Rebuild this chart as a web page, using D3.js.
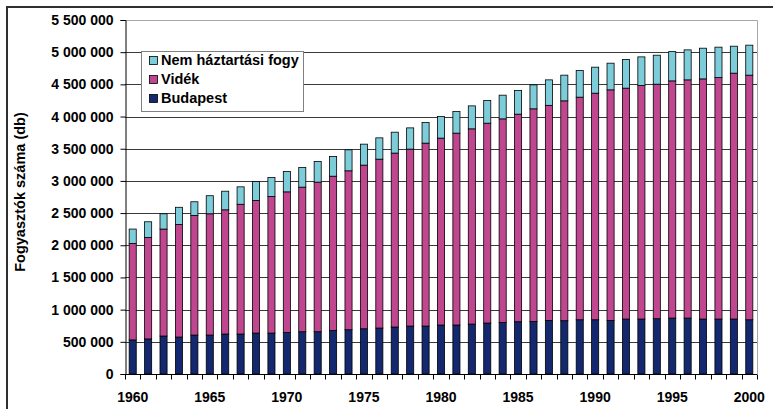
<!DOCTYPE html>
<html>
<head>
<meta charset="utf-8">
<script src="https://cdn.jsdelivr.net/npm/d3@7"></script>
<style>
  html, body { margin: 0; padding: 0; background: #fff; }
  svg { display: block; font-family: Arial, "Liberation Sans", sans-serif; }
</style>
</head>
<body>
<svg id="chart" width="773" height="409"></svg>
<script>
// Fogyasztók száma évenként (db)
const years = d3.range(1960, 2001);
const budapest = [
  530000, 545000, 590000, 574000, 605000, 605000, 621000, 621000, 636000, 636000,
  646000, 657000, 657000, 675000, 688000, 703000, 714000, 730000, 745000, 745000,
  761000, 761000, 776000, 792000, 801000, 812000, 817000, 832000, 828000, 843000,
  843000, 833000, 854000, 854000, 859000, 869000, 869000, 854000, 854000, 854000,
  843000
];
const videk = [
  1498000, 1576000, 1662000, 1749000, 1858000, 1884000, 1930000, 2016000, 2060000, 2122000,
  2184000, 2246000, 2324000, 2398000, 2469000, 2542000, 2624000, 2702000, 2749000, 2842000,
  2904000, 2981000, 3033000, 3105000, 3163000, 3225000, 3303000, 3342000, 3416000, 3458000,
  3520000, 3582000, 3587000, 3628000, 3644000, 3685000, 3701000, 3731000, 3752000, 3820000,
  3800000
];
const nemHaztartasi = [
  224000, 244000, 237000, 267000, 213000, 281000, 289000, 271000, 294000, 295000,
  316000, 305000, 320000, 306000, 326000, 326000, 331000, 325000, 330000, 320000,
  335000, 336000, 357000, 352000, 368000, 367000, 372000, 396000, 399000, 414000,
  404000, 414000, 445000, 445000, 450000, 455000, 466000, 477000, 472000, 419000,
  466000
];
const seriesNames = ["Budapest", "Vidék", "Nem háztartási fogy"];
const seriesColors = ["#13286e", "#c0478f", "#7dccd9"];
const yTicks = d3.range(0, 5500001, 500000);
const xLabelYears = [1960, 1965, 1970, 1975, 1980, 1985, 1990, 1995, 2000];

const rows = years.map((y, i) => ({
  year: y,
  "Budapest": budapest[i],
  "Vidék": videk[i],
  "Nem háztartási fogy": nemHaztartasi[i]
}));

const svg = d3.select("#chart");
const plot = { left: 125, right: 757, top: 20, bottom: 374 };
const FONT = "Arial, 'Liberation Sans', sans-serif";

const huLocale = d3.formatLocale({ decimal: ",", thousands: " ", grouping: [3], currency: ["", ""] });
const fmt = huLocale.format(",d");

const x = d3.scaleBand().domain(years).range([plot.left, plot.right]).padding(0);
const y = d3.scaleLinear().domain([0, 5500000]).range([plot.bottom, plot.top]);
const barW = x.bandwidth() * 0.46;

// outer chart frame
svg.append("path")
  .attr("d", `M7,409 V7 H773`)
  .attr("fill", "none").attr("stroke", "#303030").attr("stroke-width", 2);

// plot area border (top/right)
svg.append("path")
  .attr("d", `M${plot.left},${plot.top + 0.5} H${plot.right + 0.5} V${plot.bottom}`)
  .attr("fill", "none").attr("stroke", "#a8a8a8").attr("stroke-width", 1);

// gridlines
svg.append("g").selectAll("line")
  .data(yTicks.filter(d => d > 0 && d < 5500000))
  .join("line")
  .attr("x1", plot.left).attr("x2", plot.right)
  .attr("y1", d => Math.round(y(d)) + 0.5).attr("y2", d => Math.round(y(d)) + 0.5)
  .attr("stroke", "#3a3a3a").attr("stroke-width", 1);

// stacked bars
const stack = d3.stack().keys(seriesNames);
const layers = stack(rows);
svg.append("g").selectAll("g")
  .data(layers)
  .join("g")
  .attr("fill", (d, i) => seriesColors[i])
  .selectAll("rect")
  .data(d => d)
  .join("rect")
  .attr("x", d => x(d.data.year) + (x.bandwidth() - barW) / 2)
  .attr("width", barW)
  .attr("y", d => y(d[1]))
  .attr("height", d => y(d[0]) - y(d[1]))
  .attr("stroke", "#000")
  .attr("stroke-width", 0.8);

// y axis
const yAxis = d3.axisLeft(y).tickValues(yTicks).tickFormat(fmt).tickSize(5).tickPadding(7);
const gy = svg.append("g").attr("transform", `translate(${plot.left + 0.5},0)`).call(yAxis);
gy.select(".domain").attr("stroke", "#000");
gy.selectAll(".tick line").attr("stroke", "#000");
gy.selectAll("text")
  .attr("font-size", 14).attr("font-weight", "bold").attr("fill", "#000")
  .attr("font-family", FONT);

// x axis: tick marks at category boundaries, labels every 5 years
const gx = svg.append("g").attr("transform", `translate(0,${plot.bottom + 0.5})`);
gx.append("line")
  .attr("x1", plot.left).attr("x2", plot.right)
  .attr("stroke", "#000");
gx.selectAll("line.tk")
  .data(years.concat([null]))
  .join("line")
  .attr("class", "tk")
  .attr("x1", (d, i) => Math.round(plot.left + i * x.step()) + 0.5)
  .attr("x2", (d, i) => Math.round(plot.left + i * x.step()) + 0.5)
  .attr("y1", 0).attr("y2", 5)
  .attr("stroke", "#000");
gx.selectAll("text")
  .data(xLabelYears)
  .join("text")
  .attr("x", d => x(d) + x.bandwidth() / 2)
  .attr("y", 27)
  .attr("text-anchor", "middle")
  .attr("font-size", 14).attr("font-weight", "bold").attr("fill", "#000")
  .text(d => d);

// y axis title
svg.append("text")
  .attr("transform", `translate(21,${192}) rotate(-90)`)
  .attr("text-anchor", "middle")
  .attr("dominant-baseline", "middle")
  .attr("font-size", 14.5).attr("font-weight", "bold").attr("fill", "#000")
  .text("Fogyasztók száma (db)");

// legend
const legend = svg.append("g").attr("transform", "translate(141,51)");
legend.append("rect")
  .attr("x", 0.5).attr("y", 0.5).attr("width", 162).attr("height", 60)
  .attr("fill", "#fff").attr("stroke", "#808080");
const legendItems = [2, 1, 0];
legendItems.forEach((si, row) => {
  const cy = 10 + row * 19;
  legend.append("rect")
    .attr("x", 8.5).attr("y", cy - 4.5).attr("width", 8).attr("height", 8)
    .attr("fill", seriesColors[si]).attr("stroke", "#000").attr("stroke-width", 0.8);
  legend.append("text")
    .attr("x", 20).attr("y", cy)
    .attr("dominant-baseline", "middle")
    .attr("font-size", 14.5).attr("font-weight", "bold").attr("fill", "#000")
    .text(seriesNames[si]);
});
</script>
</body>
</html>
